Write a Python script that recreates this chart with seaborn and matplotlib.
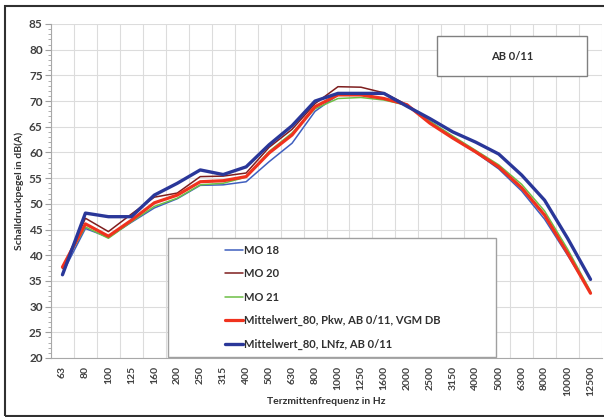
import matplotlib
matplotlib.use("Agg")
import matplotlib.pyplot as plt
from matplotlib.patches import Rectangle
import numpy as np
import pandas as pd
import seaborn as sns

freqs = ["63", "80", "100", "125", "160", "200", "250", "315", "400", "500", "630", "800",
         "1000", "1250", "1600", "2000", "2500", "3150", "4000", "5000", "6300", "8000",
         "10000", "12500"]

mo18 = [36.5, 45.2, 43.5, 46.4, 49.2, 51.0, 53.6, 53.7, 54.3, 58.2, 61.8, 68.0,
        71.2, 71.3, 70.5, 69.2, 65.8, 62.8, 60.0, 56.8, 52.5, 47.0, 40.0, 32.8]
mo20 = [37.4, 47.2, 44.6, 48.0, 51.3, 52.1, 55.3, 55.4, 56.0, 61.0, 64.5, 69.5,
        72.8, 72.7, 71.6, 69.3, 66.0, 63.0, 60.1, 57.0, 53.2, 47.9, 40.6, 32.8]
mo21 = [37.6, 45.5, 43.3, 46.5, 49.5, 51.1, 53.7, 54.0, 55.2, 60.2, 63.8, 68.5,
        70.5, 70.7, 70.2, 69.2, 66.1, 63.2, 60.4, 57.6, 53.8, 48.6, 41.2, 33.0]
mw_pkw = [37.7, 46.1, 43.7, 46.8, 50.2, 51.7, 54.3, 54.5, 55.3, 59.9, 63.4, 68.9,
          71.2, 71.2, 70.5, 69.3, 65.7, 62.8, 60.1, 57.2, 53.1, 47.8, 40.4, 32.6]
mw_lnfz = [36.2, 48.2, 47.5, 47.5, 51.7, 54.0, 56.6, 55.7, 57.2, 61.5, 65.2, 70.0,
           71.5, 71.5, 71.5, 69.0, 66.6, 64.0, 62.0, 59.7, 55.6, 50.7, 43.3, 35.3]

series_names = ["MO 18", "MO 20", "MO 21",
                "Mittelwert_80, Pkw, AB 0/11, VGM DB",
                "Mittelwert_80, LNfz, AB 0/11"]
series_values = [mo18, mo20, mo21, mw_pkw, mw_lnfz]
colors = ["#3F5FBF", "#7E1E1E", "#6CBF45", "#F0321E", "#2A3799"]
widths = [1.1, 1.1, 1.1, 2.3, 2.4]

sns.set_theme(style="white")
plt.rcParams["font.family"] = ["Lato", "DejaVu Sans"]
plt.rcParams["font.weight"] = "bold"

fig = plt.figure(figsize=(6.04, 4.17), dpi=100)
ax = fig.add_axes([51 / 604, 1 - 358 / 417, 551 / 604, 334 / 417])

for name, vals, c, w in zip(series_names, series_values, colors, widths):
    df = pd.DataFrame({"Frequenz": freqs, "Pegel": vals})
    sns.lineplot(data=df, x="Frequenz", y="Pegel", ax=ax, color=c, linewidth=w,
                 label=name, sort=False, legend=False)

ax.set_xlim(-0.5, len(freqs) - 0.5)
ax.set_ylim(20, 85)
ax.set_yticks(np.arange(20, 86, 5))
ax.set_yticks(np.arange(20, 86, 1), minor=True)
ax.set_xticks(range(len(freqs)))
ax.set_xticklabels(freqs, rotation=90, fontsize=7.5, fontweight="bold", color="#404040")
ax.set_xticks(np.arange(-0.5, len(freqs), 1.0), minor=True)
for lab in ax.get_yticklabels():
    lab.set_fontsize(8.5)
    lab.set_fontweight("bold")
    lab.set_color("#404040")

ax.grid(False)
ax.yaxis.grid(True, which="major", color="#DCDCDC", linewidth=0.8)
ax.xaxis.grid(True, which="minor", color="#DCDCDC", linewidth=0.8)
ax.tick_params(axis="x", which="major", length=0, pad=6)
ax.tick_params(axis="x", which="minor", length=3, direction="inout", color="#A0A0A0", width=0.8)
ax.tick_params(axis="y", which="major", length=4, direction="out", color="#A0A0A0", width=0.8, left=True, pad=2)
ax.tick_params(axis="y", which="minor", length=2, direction="out", color="#A0A0A0", width=0.6, left=True)
for s in ["top", "right"]:
    ax.spines[s].set_visible(False)
for s in ["left", "bottom"]:
    ax.spines[s].set_color("#A8A8A8")
    ax.spines[s].set_linewidth(0.8)

ax.set_xlabel("")
ax.set_ylabel("")
fig.text(19 / 604, 1 - 191 / 417, "Schalldruckpegel in dB(A)", rotation=90,
         ha="center", va="center", fontsize=7.5, fontweight="bold", color="#303030")
fig.text(326 / 604, 1 - 401 / 417, "Terzmittenfrequenz in Hz",
         ha="center", va="center", fontsize=7.5, fontweight="bold", color="#303030")

# legend box
ax.add_patch(Rectangle(((168 - 51) / 551, (358 - 357) / 334), (496 - 168) / 551, (357 - 238) / 334,
                       transform=ax.transAxes, facecolor="white", edgecolor="#A0A0A0",
                       linewidth=1.0, zorder=5))
handles, labels = ax.get_legend_handles_labels()
leg = ax.legend(handles, labels, loc="upper left",
                bbox_to_anchor=((225 - 51) / 551, (358 - 245) / 334),
                frameon=False, fontsize=8, handlelength=1.6, handletextpad=0.15,
                labelspacing=1.11, borderpad=0.0, borderaxespad=0.0)
leg.set_zorder(6)
for t in leg.get_texts():
    t.set_fontweight("bold")
    t.set_color("#303030")

# text box AB 0/11
ax.add_patch(Rectangle(((437 - 51) / 551, (358 - 76) / 334), 150 / 551, 40 / 334,
                       transform=ax.transAxes, facecolor="white", edgecolor="#808080",
                       linewidth=1.0, zorder=5))
ax.text((512 - 51) / 551, (358 - 56) / 334, "AB 0/11", transform=ax.transAxes,
        ha="center", va="center", fontsize=8, fontweight="bold", color="#303030", zorder=6)

# outer frame
fig.patches.append(Rectangle((5 / 604, 1 / 417), 1.2, 410 / 417, transform=fig.transFigure,
                             facecolor="none", edgecolor="#303030", linewidth=1.5))

fig.savefig("out.png", dpi=100)
